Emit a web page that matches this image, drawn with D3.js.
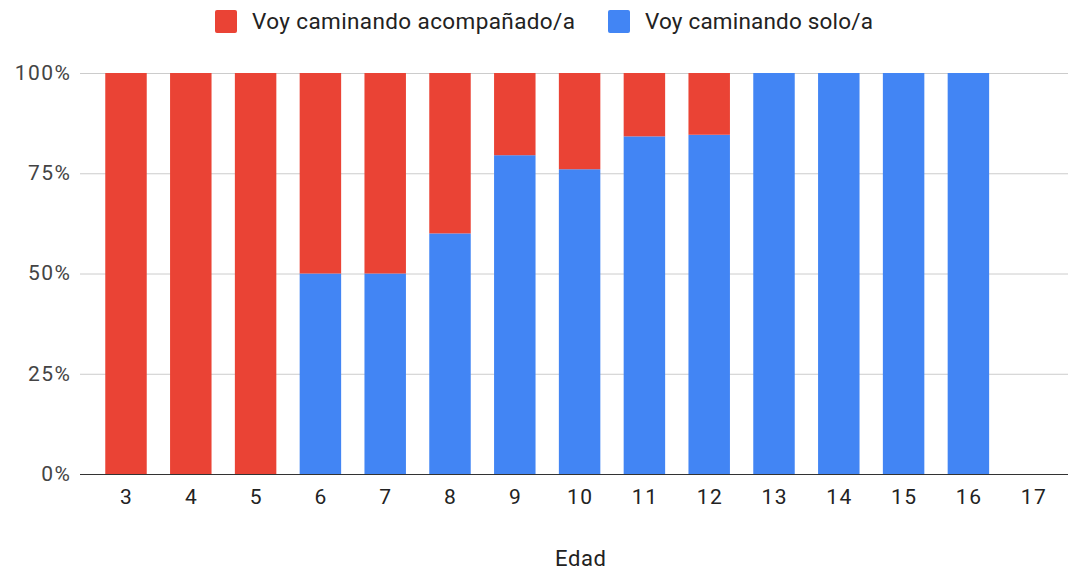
<!DOCTYPE html>
<html><head><meta charset="utf-8">
<script src="https://cdn.jsdelivr.net/npm/d3@7"></script>
<style>body{margin:0;background:#fff}svg{display:block;font-family:Roboto,sans-serif}</style>
</head><body>
<svg id="c" width="1068" height="571"></svg>
<script>
const categories = ["3","4","5","6","7","8","9","10","11","12","13","14","15","16","17"];
const acompanado = [1,1,1,0.5,0.5,0.4,0.205,0.24,0.158,0.154,0,0,0,0,0];
const solo = [0,0,0,0.5,0.5,0.6,0.795,0.76,0.842,0.846,1,1,1,1,0];
const yTicks = [0,0.25,0.5,0.75,1];
const seriesNames = ["Voy caminando acompañado/a","Voy caminando solo/a"];
const colors = ["#ea4335","#4285f4"];

const svg = d3.select("#c");
const x = d3.scaleBand().domain(categories).range([93.6,1065.6]).paddingInner(0.36).paddingOuter(0.18);
const y = d3.scaleLinear().domain([0,1]).range([474,73]);

// grid
svg.append("g").selectAll("line").data(yTicks.filter(d=>d>0)).join("line")
  .attr("x1",80).attr("x2",1068).attr("y1",d=>y(d)+0.5).attr("y2",d=>y(d)+0.5)
  .attr("stroke","#cccccc").attr("stroke-width",1);

const data = categories.map((c,i)=>({c, s:solo[i], a:acompanado[i]}));
const stack = d3.stack().keys(["s","a"])(data);
const keyColor = {s:colors[1], a:colors[0]};
svg.append("g").selectAll("g").data(stack).join("g").attr("fill",d=>keyColor[d.key])
  .selectAll("rect").data(d=>d).join("rect")
  .attr("x",d=>x(d.data.c)).attr("width",x.bandwidth())
  .attr("y",d=>y(d[1])).attr("height",d=>y(d[0])-y(d[1]));

// axis line
svg.append("line").attr("x1",80).attr("x2",1068).attr("y1",474.5).attr("y2",474.5).attr("stroke","#333").attr("stroke-width",1);

// y labels
svg.append("g").selectAll("text").data(yTicks).join("text")
  .attr("x",71.5).attr("y",d=>y(d)).attr("dy","0.33em").attr("text-anchor","end")
  .attr("font-size",21).attr("letter-spacing",1.5).attr("fill","#444").text(d=>d3.format(".0%")(d));

// x labels
svg.append("g").selectAll("text").data(categories).join("text")
  .attr("x",d=>x(d)+x.bandwidth()/2+0.75).attr("y",497).attr("dy","0.35em").attr("text-anchor","middle")
  .attr("font-size",21).attr("letter-spacing",1.5).attr("fill","#222").text(d=>d);

svg.append("text").attr("x",555).attr("y",558).attr("dy","0.35em")
  .attr("font-size",22).attr("textLength",51).attr("lengthAdjust","spacing").attr("fill","#222").text("Edad");

// legend
const leg = [{n:seriesNames[0],c:colors[0],x:215,w:323},{n:seriesNames[1],c:colors[1],x:608,w:228}];
const lg = svg.append("g").selectAll("g").data(leg).join("g").attr("transform",d=>`translate(${d.x},10)`);
lg.append("rect").attr("width",22).attr("height",23).attr("rx",2).attr("fill",d=>d.c);
lg.append("text").attr("x",37).attr("y",11.5).attr("dy","0.35em").attr("font-size",22.5)
  .attr("textLength",d=>d.w).attr("lengthAdjust","spacing").attr("fill","#222").text(d=>d.n);
</script>
</body></html>
